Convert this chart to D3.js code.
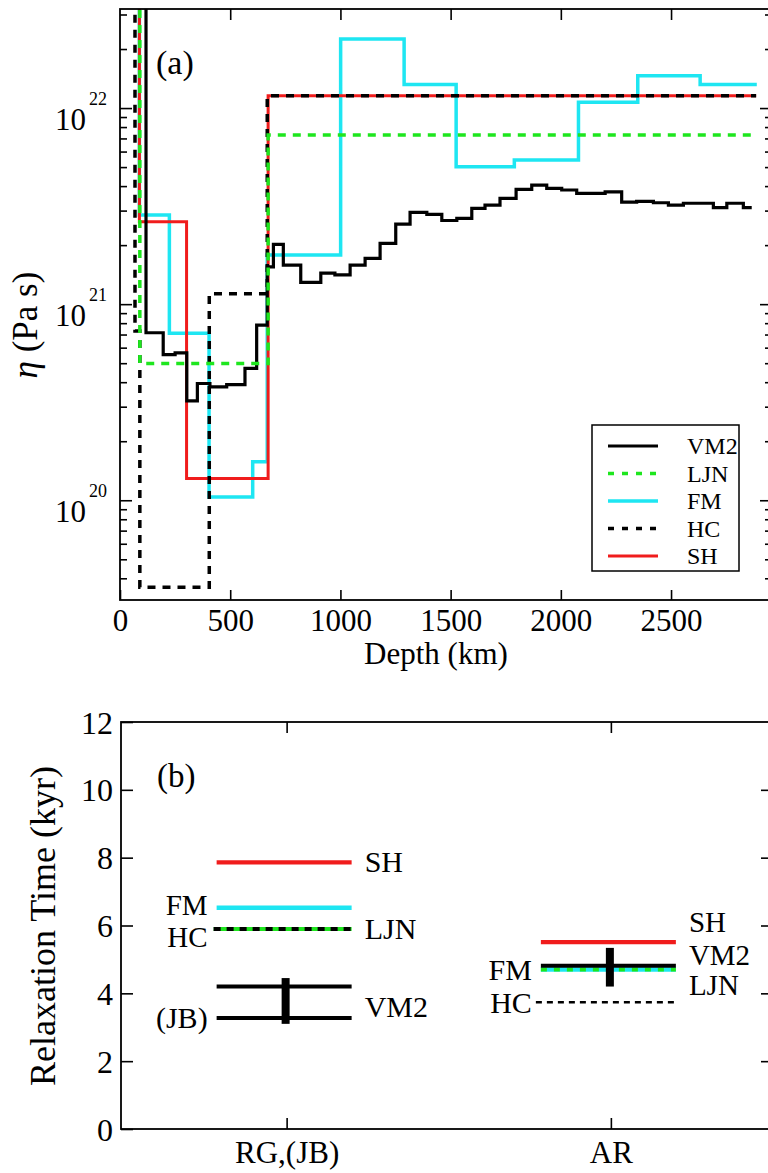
<!DOCTYPE html>
<html><head><meta charset="utf-8">
<script src="https://cdn.jsdelivr.net/npm/d3@7"></script>
<style>
html,body{margin:0;padding:0;background:#fff;}
svg{display:block;}
svg text{font-family:"Liberation Serif","Times New Roman",serif;fill:#000;}
</style></head><body>
<svg id="c" width="768" height="1173"></svg>
<script>
// ---------- DATA: panel (a) viscosity profiles (depth boundaries in km, viscosity in Pa s) ----------
const vm2Depth = [0,118,196,250,303,351,408,484,567,620,668,696,741,820,911,975,1044,1112,1180,1251,1316,1392,1460,1528,1596,1656,1724,1797,1868,1936,2004,2072,2201,2276,2344,2420,2488,2556,2692,2753,2828,2866];
const vm2Visc  = [1e25,7.15e20,5.53e20,5.65e20,3.21e20,3.94e20,3.79e20,3.89e20,4.70e20,7.82e20,1.55e21,2.02e21,1.58e21,1.29e21,1.44e21,1.41e21,1.58e21,1.71e21,2.04e21,2.56e21,2.94e21,2.87e21,2.67e21,2.74e21,3.08e21,3.20e21,3.46e21,3.85e21,4.05e21,3.89e21,3.82e21,3.67e21,3.74e21,3.31e21,3.34e21,3.29e21,3.20e21,3.27e21,3.11e21,3.27e21,3.11e21];
const fmDepth  = [0,88,224,404,602,668,1001,1289,1525,1789,2080,2349,2632,2889];
const fmVisc   = [1e25,2.85e21,7.1e20,1.04e20,1.57e20,1.78e21,2.25e22,1.32e22,5.02e21,5.43e21,1.07e22,1.46e22,1.32e22];
const shDepth  = [0,88,302,672,2886];
const shVisc   = [1e25,2.63e21,1.29e20,1.155e22];
const ljnDepth = [0,90,672,2886];
const ljnVisc  = [1e25,4.98e20,7.28e21];
const hcDepth  = [0,68,90,405,668,2886];
const hcVisc   = [1e25,7.3e20,3.6e19,1.13e21,1.155e22];
const depthTicks = [0,500,1000,1500,2000,2500];
const viscMajorTicks = [1e20,1e21,1e22];
const viscTickExponents = ["20","21","22"];
const legendNames = ["VM2","LJN","FM","HC","SH"];

// ---------- DATA: panel (b) relaxation times (kyr) ----------
const relaxCategories = ["RG,(JB)","AR"];
const relaxSH   = [7.86,5.51];
const relaxFM   = [6.52,4.70];
const relaxLJN  = [5.90,4.70];
const relaxHC   = [5.90,3.74];
const relaxVM2  = [4.20,4.81];
const relaxVM2JB = [3.27,null];
const obsLow    = [3.10,4.20];
const obsHigh   = [4.45,5.34];
const relaxTicks = [0,2,4,6,8,10,12];
const relaxLabelText = ["SH","FM","HC","LJN","(JB)","VM2","SH","VM2","LJN","FM","HC"];
const relaxLabelCat  = [0,0,0,0,0,0,1,1,1,1,1];
const relaxLabelVal  = [7.86,6.52,5.90,5.90,3.27,4.20,5.51,4.81,4.70,4.70,3.74];

// ---------- STYLE ----------
const RED="#f01c1c", CYAN="#1ee6f2", GREEN="#1ee61e", BLACK="#000";
const SERIF = "Liberation Serif";
const relaxLabelSide = ["r","l","l","r","l","r","r","r","r","l","l"];
const relaxLabelDy   = [0,-3,8,0,0,20,-20,-11,15,0,1];
const relaxLabelSize = [30,29,29,30,30,30,29,29,29,30,30];

const svg = d3.select("#c");
svg.append("rect").attr("width",768).attr("height",1173).attr("fill","#fff");

// ================= Panel (a) =================
const A = {l:120, r:772, t:9, b:600};
const x = d3.scaleLinear().domain([0,2958]).range([A.l,A.r]);
const y = d3.scaleLog().domain([3.1e19,3.2e22]).range([A.b,A.t]);

svg.append("clipPath").attr("id","clipA").append("rect")
  .attr("x",A.l).attr("y",A.t).attr("width",A.r-A.l).attr("height",A.b-A.t);

const gA = svg.append("g");
const stepLine = d3.line().x(d=>x(d[0])).y(d=>y(d[1])).curve(d3.curveStepAfter);
function pts(depth, visc){ return depth.map((d,i)=>[d, visc[Math.min(i,visc.length-1)]]); }

const models = {
  VM2:{d:vm2Depth,v:vm2Visc,color:BLACK,w:3.2,dash:null},
  LJN:{d:ljnDepth,v:ljnVisc,color:GREEN,w:3.5,dash:"8,7"},
  FM:{d:fmDepth,v:fmVisc,color:CYAN,w:3.5,dash:null},
  HC:{d:hcDepth,v:hcVisc,color:BLACK,w:3.5,dash:"8,7"},
  SH:{d:shDepth,v:shVisc,color:RED,w:3,dash:null}
};
const drawOrder = ["FM","SH","VM2","HC","LJN"];
const linesG = gA.append("g").attr("clip-path","url(#clipA)");
drawOrder.forEach(k=>{
  const m = models[k];
  linesG.append("path").datum(pts(m.d,m.v)).attr("d",stepLine)
    .attr("fill","none").attr("stroke",m.color).attr("stroke-width",m.w)
    .attr("stroke-dasharray",m.dash).attr("stroke-linejoin","miter");
});

const minorTicks = [];
[19,20,21,22].forEach(e=>{ for(let k=2;k<=9;k++){ const v=k*Math.pow(10,e); if(v>=3.1e19 && v<=3.2e22) minorTicks.push(v);} });

function clean(g){
  g.attr("font-family",null).attr("font-size",null);
  g.select(".domain").remove();
  g.selectAll("line").attr("stroke","#000").attr("stroke-width",1.6);
}

gA.append("g").attr("transform",`translate(${A.l},0)`).call(d3.axisLeft(y).tickValues(viscMajorTicks).tickSize(-12).tickFormat("")).call(clean);
gA.append("g").attr("transform",`translate(${A.l},0)`).call(d3.axisLeft(y).tickValues(minorTicks).tickSize(-7).tickFormat("")).call(clean);
gA.append("g").attr("transform",`translate(${A.r},0)`).call(d3.axisRight(y).tickValues(viscMajorTicks).tickSize(-12).tickFormat("")).call(clean);
gA.append("g").attr("transform",`translate(${A.r},0)`).call(d3.axisRight(y).tickValues(minorTicks).tickSize(-7).tickFormat("")).call(clean);
gA.append("g").attr("transform",`translate(0,${A.t})`).call(d3.axisTop(x).tickValues(depthTicks.slice(1)).tickSize(-11).tickFormat("")).call(clean);
const xAx = gA.append("g").attr("transform",`translate(0,${A.b})`)
  .call(d3.axisBottom(x).tickValues(depthTicks).tickSize(-10).tickFormat(d3.format("d"))).call(clean);
xAx.selectAll("text").attr("y",31).attr("dy",null).attr("font-size",31).attr("font-family",SERIF).attr("fill","#000");

gA.append("rect").attr("x",A.l).attr("y",A.t).attr("width",A.r-A.l).attr("height",A.b-A.t)
  .attr("fill","none").attr("stroke","#000").attr("stroke-width",1.8);

viscMajorTicks.forEach((v,i)=>{
  const yy = y(v);
  gA.append("text").attr("x",86).attr("y",yy+22).attr("text-anchor","end").attr("font-size",31).text("10");
  gA.append("text").attr("x",89).attr("y",yy-3).attr("font-size",18).text(viscTickExponents[i]);
});

gA.append("text").attr("x",436).attr("y",664).attr("text-anchor","middle").attr("font-size",31).text("Depth (km)");
const yt = gA.append("text").attr("transform","translate(37,325) rotate(-90)").attr("text-anchor","middle").attr("font-size",35);
yt.append("tspan").attr("font-style","italic").text("η");
yt.append("tspan").text(" (Pa s)");
gA.append("text").attr("x",156).attr("y",74).attr("font-size",34).text("(a)");

const lg = gA.append("g");
lg.append("rect").attr("x",592).attr("y",425).attr("width",147).attr("height",146)
  .attr("fill","#fff").attr("stroke","#000").attr("stroke-width",1.5);
legendNames.forEach((n,i)=>{
  const m = models[n];
  const yy = 446 + i*27.5;
  lg.append("line").attr("x1",608).attr("x2",658).attr("y1",yy).attr("y2",yy)
    .attr("stroke",m.color).attr("stroke-width",m.w).attr("stroke-dasharray",m.dash? "6,8":null);
  lg.append("text").attr("x",687).attr("y",yy+8).attr("font-size",24).text(n);
});

// ================= Panel (b) =================
const B = {l:121, r:773, t:722, b:1129};
const xb = d3.scalePoint().domain(relaxCategories).range([124.5,773]).padding(0.5);
const yb = d3.scaleLinear().domain([0,12]).range([B.b,B.t]);
const gB = svg.append("g");

gB.append("g").attr("transform",`translate(${B.l},0)`).call(d3.axisLeft(yb).tickValues(relaxTicks).tickSize(-12)).call(clean)
  .call(g=>g.selectAll("text").attr("x",-8).attr("dy",null).attr("y",11).attr("font-size",32).attr("font-family",SERIF).attr("fill","#000"));
gB.append("g").attr("transform",`translate(${B.r},0)`).call(d3.axisRight(yb).tickValues(relaxTicks.slice(1,-1)).tickSize(-12).tickFormat("")).call(clean);
gB.append("g").attr("transform",`translate(0,${B.t})`).call(d3.axisTop(xb).tickSize(-11).tickFormat("")).call(clean);
gB.append("g").attr("transform",`translate(0,${B.b})`).call(d3.axisBottom(xb).tickSize(-11)).call(clean)
  .call(g=>g.selectAll("text").attr("y",34).attr("dy",null).attr("font-size",31).attr("font-family",SERIF).attr("fill","#000"));
gB.append("rect").attr("x",B.l).attr("y",B.t).attr("width",B.r-B.l).attr("height",B.b-B.t)
  .attr("fill","none").attr("stroke","#000").attr("stroke-width",1.8);

function seg(cat, v, color, w, dash, x0off, x1off){
  if(v==null) return;
  const cx = xb(cat);
  gB.append("line").attr("x1",cx+(x0off??-70)).attr("x2",cx+(x1off??65))
    .attr("y1",yb(v)).attr("y2",yb(v)).attr("stroke",color).attr("stroke-width",w)
    .attr("stroke-dasharray",dash);
}
relaxCategories.forEach((c,i)=>{
  seg(c, relaxFM[i], CYAN, 4.5, null);
  if(i===0){
    seg(c, relaxLJN[i], GREEN, 4, null, -73, 65);
    seg(c, relaxHC[i], BLACK, 4, "7,6", -73, 65);
  } else {
    seg(c, relaxLJN[i], GREEN, 4, "6,7");
    seg(c, relaxHC[i], BLACK, 2.5, "6,5", -75, 66);
  }
  seg(c, relaxVM2[i], BLACK, 4, null);
  seg(c, relaxVM2JB[i], BLACK, 4, null);
  seg(c, relaxSH[i], RED, 4.2, null);
  gB.append("line").attr("x1",xb(c)-1).attr("x2",xb(c)-1).attr("y1",yb(obsLow[i])).attr("y2",yb(obsHigh[i]))
    .attr("stroke",BLACK).attr("stroke-width",8);
});

relaxLabelText.forEach((t,i)=>{
  const cx = xb(relaxCategories[relaxLabelCat[i]]);
  const right = relaxLabelSide[i]==="r";
  gB.append("text").attr("x", right? cx+78 : cx-79).attr("y", yb(relaxLabelVal[i])+relaxLabelDy[i]+10)
    .attr("text-anchor", right? "start":"end").attr("font-size",relaxLabelSize[i]).text(t);
});

gB.append("text").attr("x",157).attr("y",787).attr("font-size",33).text("(b)");
gB.append("text").attr("transform","translate(55,926) rotate(-90)").attr("text-anchor","middle").attr("font-size",36).text("Relaxation Time (kyr)");
</script></body></html>
